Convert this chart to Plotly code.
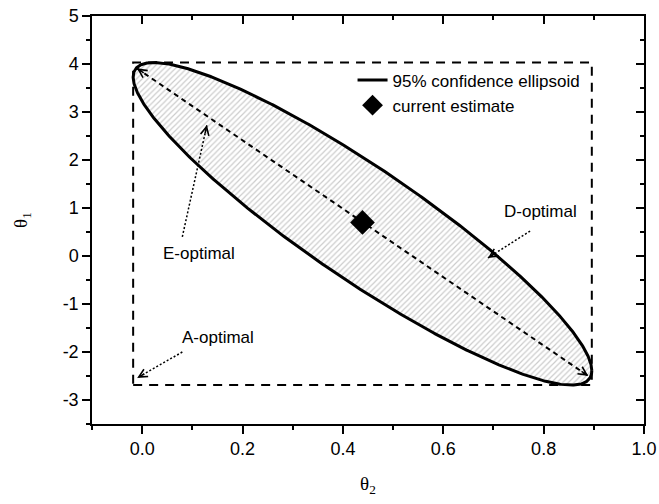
import numpy as np
import plotly.graph_objects as go

# ---- data -------------------------------------------------------------
# current parameter estimate (theta2, theta1)
estimate_t2 = [0.439]
estimate_t1 = [0.70]

# 95% confidence ellipsoid: centre, half-extents and correlation
ell_center = (0.439, 0.67)
ell_half = (0.457, 3.36)
ell_corr = -0.91

# A-optimal box (bounding box of the ellipsoid)
box_t2 = [-0.018, 0.896, 0.896, -0.018, -0.018]
box_t1 = [-2.69, -2.69, 4.03, 4.03, -2.69]

# major axis of the ellipsoid (double-headed arrow)
major_t2 = [-0.0105, 0.889]
major_t1 = [3.91, -2.50]

# pointer arrows: tail -> head
pointer_names = ["A-optimal", "E-optimal", "D-optimal"]
pointer_tail_t2 = [0.080, 0.080, 0.773]
pointer_tail_t1 = [-2.00, 0.40, 0.52]
pointer_head_t2 = [-0.010, 0.129, 0.689]
pointer_head_t1 = [-2.54, 2.73, -0.04]
label_t2 = [0.151, 0.114, 0.793]
label_t1 = [-1.69, 0.06, 0.92]

x_ticks = [0.0, 0.2, 0.4, 0.6, 0.8, 1.0]
x_ticktext = ["0.0", "0.2", "0.4", "0.6", "0.8", "1.0"]
y_ticks = [-3, -2, -1, 0, 1, 2, 3, 4, 5]
y_ticktext = ["-3", "-2", "-1", "0", "1", "2", "3", "4", "5"]
x_range = [-0.1, 1.0]
y_range = [-3.5, 5.0]

# ---- layout constants --------------------------------------------------
W, H = 659, 504
M = dict(l=92, r=15, t=16, b=80, autoexpand=False)
px_x = (W - M["l"] - M["r"]) / (x_range[1] - x_range[0])
px_y = (H - M["t"] - M["b"]) / (y_range[1] - y_range[0])

SANS = "Liberation Sans, Arial, sans-serif"
SERIF = "Liberation Serif, Times New Roman, serif"

# ellipse outline from centre / half-extents / correlation
t = np.linspace(0, 2 * np.pi, 721)
ell_x = ell_center[0] + ell_half[0] * np.cos(t)
ell_y = ell_center[1] + ell_half[1] * (ell_corr * np.cos(t) + np.sqrt(1 - ell_corr ** 2) * np.sin(t))

fig = go.Figure()

# hatched interior
fig.add_trace(go.Scatter(
    x=ell_x, y=ell_y, mode="lines", fill="toself",
    line=dict(width=0, color="rgba(0,0,0,0)"),
    fillcolor="white",
    fillpattern=dict(shape="/", size=4, solidity=0.3, fgcolor="#9a9a9a", bgcolor="white"),
    showlegend=False, hoverinfo="skip"))

# dashed A-optimal box
fig.add_trace(go.Scatter(
    x=box_t2, y=box_t1, mode="lines",
    line=dict(color="black", width=2, dash="9px,7px"),
    showlegend=False, hoverinfo="skip"))

# ellipse outline
fig.add_trace(go.Scatter(
    x=ell_x, y=ell_y, mode="lines",
    line=dict(color="black", width=3),
    name="95% confidence ellipsoid", hoverinfo="skip"))

# major axis
fig.add_trace(go.Scatter(
    x=major_t2, y=major_t1, mode="lines",
    line=dict(color="black", width=2, dash="5px,4px"),
    showlegend=False, hoverinfo="skip"))

# dotted pointers
for i in range(len(pointer_names)):
    fig.add_trace(go.Scatter(
        x=[pointer_tail_t2[i], pointer_head_t2[i]],
        y=[pointer_tail_t1[i], pointer_head_t1[i]],
        mode="lines", line=dict(color="black", width=1.5, dash="2px,2px"),
        showlegend=False, hoverinfo="skip"))

# current estimate
fig.add_trace(go.Scatter(
    x=estimate_t2, y=estimate_t1, mode="markers",
    marker=dict(symbol="diamond", size=19, color="black"),
    name="current estimate", hoverinfo="skip"))

# invisible trace to carry the mirrored top/right axes
fig.add_trace(go.Scatter(x=[None], y=[None], xaxis="x2", yaxis="y2",
                         showlegend=False, hoverinfo="skip"))


def head(x_tip, y_tip, x_from, y_from, stem=10):
    """Open arrowhead at (x_tip, y_tip) pointing away from (x_from, y_from)."""
    dx = (x_from - x_tip) * px_x
    dy = -(y_from - y_tip) * px_y
    n = np.hypot(dx, dy)
    return dict(x=x_tip, y=y_tip, ax=dx / n * stem, ay=dy / n * stem,
                xref="x", yref="y", axref="pixel", ayref="pixel",
                showarrow=True, arrowhead=5, arrowsize=1.1, arrowwidth=1.5,
                arrowcolor="black", text="")


annotations = [
    head(major_t2[0], major_t1[0], major_t2[1], major_t1[1]),
    head(major_t2[1], major_t1[1], major_t2[0], major_t1[0]),
]
for i, name in enumerate(pointer_names):
    annotations.append(head(pointer_head_t2[i], pointer_head_t1[i],
                            pointer_tail_t2[i], pointer_tail_t1[i]))
    annotations.append(dict(x=label_t2[i], y=label_t1[i], xref="x", yref="y",
                            text=name, showarrow=False,
                            font=dict(family=SANS, size=17, color="black")))

axis_common = dict(showgrid=False, zeroline=False, showline=True,
                   linecolor="black", linewidth=1.5, mirror=False,
                   tickcolor="black", tickwidth=1.5, automargin=False)

fig.update_layout(
    width=W, height=H, margin=M,
    paper_bgcolor="white", plot_bgcolor="white",
    font=dict(family=SANS, size=18, color="black"),
    xaxis=dict(range=x_range, tickvals=x_ticks, ticktext=x_ticktext,
               ticks="outside", ticklen=8,
               minor=dict(dtick=0.1, ticks="outside", ticklen=4, tickwidth=1.5, tickcolor="black"),
               title=dict(text="θ<sub>2</sub>", font=dict(family=SERIF, size=19), standoff=18),
               **axis_common),
    yaxis=dict(range=y_range, tickvals=y_ticks, ticktext=y_ticktext,
               ticks="outside", ticklen=8,
               minor=dict(dtick=0.5, ticks="outside", ticklen=4, tickwidth=1.5, tickcolor="black"),
               title=dict(text="θ<sub>1</sub>", font=dict(family=SERIF, size=19), standoff=30),
               **axis_common),
    xaxis2=dict(range=x_range, overlaying="x", side="top", anchor="y2",
                tickvals=x_ticks, showticklabels=False, ticks="inside", ticklen=8,
                minor=dict(dtick=0.1, ticks="inside", ticklen=4, tickwidth=1.5, tickcolor="black"),
                **axis_common),
    yaxis2=dict(range=y_range, overlaying="y", side="right", anchor="x2",
                tickvals=y_ticks, showticklabels=False, ticks="inside", ticklen=8,
                minor=dict(dtick=0.5, ticks="inside", ticklen=4, tickwidth=1.5, tickcolor="black"),
                **axis_common),
    legend=dict(x=0.472, y=0.886, xanchor="left", yanchor="top",
                bgcolor="rgba(0,0,0,0)", font=dict(family=SANS, size=17),
                tracegroupgap=0, itemsizing="trace"),
    annotations=annotations,
    showlegend=True,
)

fig.write_html("out.html", config={"displayModeBar": False})
